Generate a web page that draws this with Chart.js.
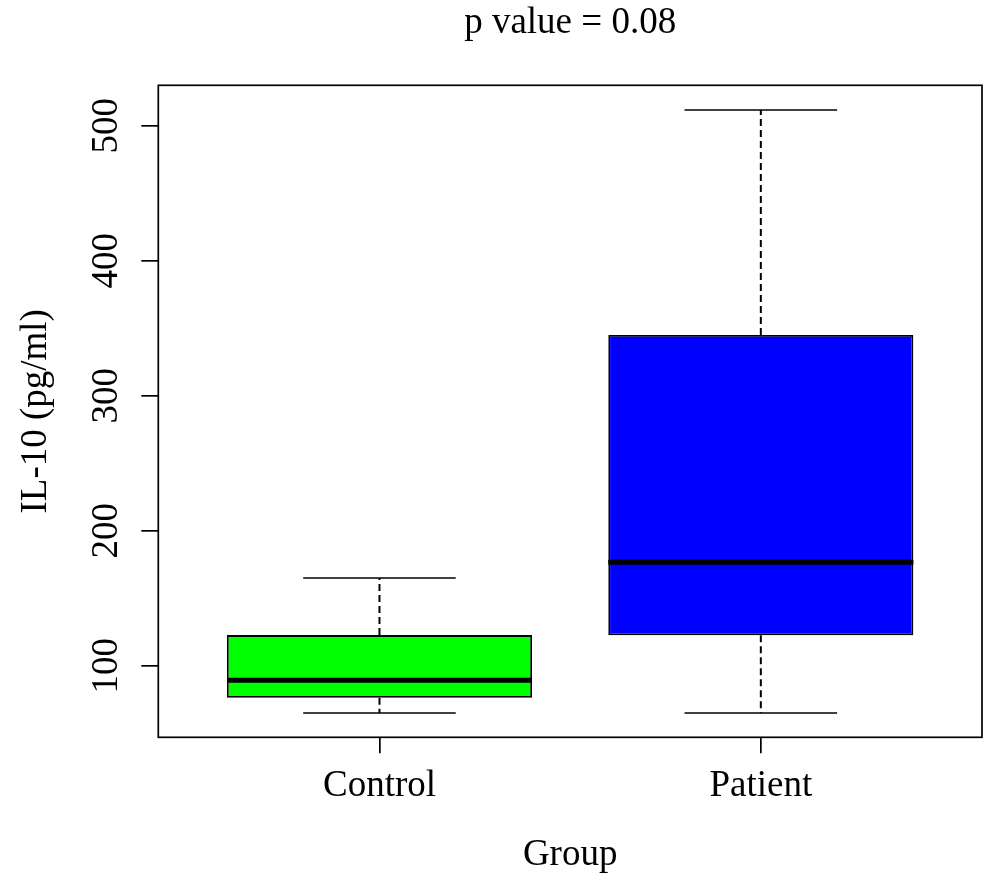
<!DOCTYPE html>
<html lang="en">
<head>
  <meta charset="UTF-8"/>
  <title>IL-10 by group</title>
  <script src="https://cdn.jsdelivr.net/npm/chart.js"></script>
  <style>
    html, body { margin:0; padding:0; background:#fff; }
    #wrap { width:988px; height:879px; }
    canvas { display:block; }
  </style>
</head>
<body>
<div id="wrap">
  <canvas id="boxChart" width="988" height="879"></canvas>
</div>

<script>
/* ========== data ========== */
const groups      = ["Control", "Patient"];
const whiskerLow  = [65, 65];
const q1          = [76.3, 122.5];
const median      = [89.2, 176.6];
const q3          = [122.7, 345];
const whiskerHigh = [165, 511.6];
const boxColors   = ["#00ff00", "#0000ff"];
const yTicks      = [100, 200, 300, 400, 500];

const FONT = '"Liberation Serif", "Times New Roman", serif';
Chart.defaults.font.family = FONT;
Chart.defaults.color = "#000";

// box half width / staple half width (in x units, like R boxplot)
const HALF = 0.4, CAP = 0.2;

function seg(x1, y1, x2, y2, extra){
  return Object.assign({
    type: 'line',
    data: [{x:x1, y:y1}, {x:x2, y:y2}],
    borderColor: '#000',
    borderWidth: 1.7,
    pointRadius: 0,
    fill: false,
    tension: 0,
    order: 1
  }, extra || {});
}

const datasets = [{
  type: 'bar',
  data: groups.map((g,i)=>({x:i+1, y:[q1[i], q3[i]]})),
  backgroundColor: boxColors,
  borderColor: '#000',
  borderWidth: 1.8,
  borderSkipped: false,
  barPercentage: 0.8,
  categoryPercentage: 1,
  order: 2
}];

groups.forEach((g,i)=>{
  const x = i+1;
  // whiskers (dashed)
  datasets.push(seg(x, q3[i], x, whiskerHigh[i], {borderDash:[7,4], borderWidth:2}));
  datasets.push(seg(x, q1[i], x, whiskerLow[i],  {borderDash:[7,4], borderWidth:2}));
  // staples
  datasets.push(seg(x-CAP, whiskerHigh[i], x+CAP, whiskerHigh[i]));
  datasets.push(seg(x-CAP, whiskerLow[i],  x+CAP, whiskerLow[i]));
  // median
  datasets.push(seg(x-HALF, median[i], x+HALF, median[i], {borderWidth:5, order:0}));
});

// frame around plot region (R box())
const frame = {
  id: 'frame',
  afterDraw(chart){
    const {ctx, chartArea:a} = chart;
    ctx.save();
    ctx.strokeStyle = '#000';
    ctx.lineWidth = 1.7;
    ctx.strokeRect(a.left, a.top, a.right-a.left, a.bottom-a.top);
    ctx.restore();
  }
};

// rotated y tick labels (parallel to axis)
const yLabels = {
  id: 'yLabels',
  afterDraw(chart){
    const ctx = chart.ctx, ys = chart.scales.y;
    ctx.save();
    ctx.font = '37px ' + FONT;
    ctx.fillStyle = '#000';
    ctx.textAlign = 'center';
    ctx.textBaseline = 'alphabetic';
    ys.ticks.forEach(t=>{
      const py = ys.getPixelForValue(t.value);
      ctx.save();
      ctx.translate(ys.right - 41, py);
      ctx.rotate(-Math.PI/2);
      ctx.fillText(String(t.value), 0, 0);
      ctx.restore();
    });
    ctx.restore();
  }
};

new Chart(document.getElementById('boxChart').getContext('2d'), {
  data: { datasets },
  options: {
    responsive: false,
    animation: false,
    devicePixelRatio: 1,
    layout: { padding: {left:0, right:6, top:0, bottom:0} },
    plugins: {
      legend: { display:false },
      tooltip: { enabled:false },
      title: {
        display: true,
        text: 'p value = 0.08',
        fullSize: false,
        color: '#000',
        font: { size:37, weight:'normal', lineHeight:1 },
        padding: { top:5, bottom:43.3 }
      }
    },
    scales: {
      x: {
        type: 'linear',
        offset: false,
        min: 0.42, max: 2.58,
        afterBuildTicks: s => { s.ticks = groups.map((g,i)=>({value:i+1})); },
        ticks: {
          callback: v => groups[Math.round(v)-1],
          font: { size:37, lineHeight:1 },
          padding: 14.7,
          maxRotation: 0,
          autoSkip: false
        },
        grid: { offset:false, drawOnChartArea:false, drawTicks:true, tickLength:16, color:'#000', lineWidth:1.7 },
        border: { display:false },
        title: {
          display: true, text: 'Group',
          font: { size:37, lineHeight:1 },
          padding: { top:17.3, bottom:5 }
        }
      },
      y: {
        type: 'linear',
        min: 47, max: 529.9,
        afterBuildTicks: s => { s.ticks = yTicks.map(v=>({value:v})); },
        ticks: { display:false },
        grid: { drawOnChartArea:false, drawTicks:true, tickLength:17, color:'#000', lineWidth:1.7 },
        border: { display:false },
        title: {
          display: true, text: 'IL-10 (pg/ml)',
          font: { size:37, lineHeight:1 },
          padding: { top:17.5, bottom:86.8 }
        }
      }
    }
  },
  plugins: [frame, yLabels]
});
</script>
</body>
</html>
